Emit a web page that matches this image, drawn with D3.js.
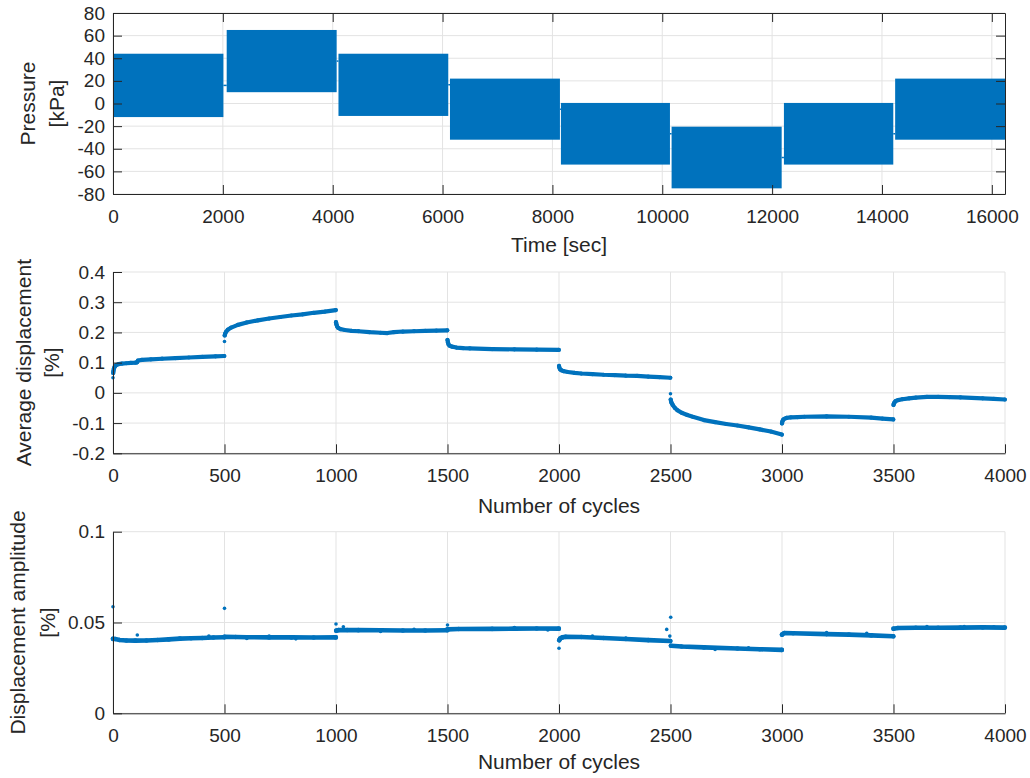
<!DOCTYPE html>
<html>
<head>
<meta charset="utf-8">
<script src="https://cdn.jsdelivr.net/npm/d3@7"></script>
<style>
  body { margin: 0; background: #fff; }
  svg { display: block; }
  text { font-family: "Liberation Sans", Arial, Helvetica, sans-serif; fill: #262626; }
</style>
</head>
<body>
<svg id="fig" width="1030" height="778"></svg>
<script>
// ---- Pressure loading stages (time in seconds, pressure envelope in kPa) ----
const stageStart = [0, 2070, 4105, 6135, 8155, 10170, 12215, 14240];
const stageEnd   = [2010, 4072, 6104, 8137, 10140, 12174, 14206, 16240];
const pressureMax = [44, 65, 44, 22, 0.5, -20.5, 0.5, 22];
const pressureMin = [-12, 10, -11, -32, -54, -75, -54, -32];

// ---- Average displacement per cycle [%] ----
const avgCycles = [
  1, 2, 4, 7, 10, 15, 25, 40, 60, 80, 100, 108, 112, 130, 170, 220, 280, 340, 400, 460, 499,
  501, 503, 507, 515, 530, 560, 600, 650, 700, 750, 800, 850, 900, 950, 999,
  1000, 1002, 1005, 1010, 1020, 1040, 1070, 1100, 1150, 1200, 1230, 1260, 1300, 1350, 1400, 1450, 1499,
  1500, 1502, 1505, 1510, 1520, 1540, 1570, 1600, 1700, 1800, 1900, 1999,
  2000, 2002, 2005, 2010, 2020, 2040, 2070, 2100, 2150, 2200, 2250, 2300, 2350, 2400, 2450, 2499,
  2501, 2503, 2506, 2510, 2520, 2530, 2550, 2575, 2600, 2650, 2700, 2750, 2800, 2850, 2900, 2950, 2999,
  3000, 3002, 3005, 3010, 3020, 3040, 3070, 3100, 3200, 3300, 3400, 3450, 3499,
  3500, 3502, 3505, 3510, 3520, 3540, 3570, 3600, 3650, 3700, 3750, 3800, 3900, 3950, 3999
];
const avgValues = [
  0.066, 0.072, 0.080, 0.086, 0.089, 0.092, 0.095, 0.097, 0.098, 0.099, 0.100, 0.101, 0.107, 0.109, 0.111, 0.113, 0.115, 0.117, 0.119, 0.121, 0.122,
  0.190, 0.196, 0.202, 0.209, 0.216, 0.225, 0.233, 0.240, 0.246, 0.251, 0.256, 0.260, 0.265, 0.269, 0.274,
  0.234, 0.226, 0.220, 0.215, 0.211, 0.208, 0.205, 0.204, 0.201, 0.199, 0.198, 0.201, 0.203, 0.204, 0.205, 0.206, 0.207,
  0.175, 0.167, 0.160, 0.156, 0.153, 0.150, 0.148, 0.147, 0.145, 0.144, 0.143, 0.142,
  0.089, 0.083, 0.078, 0.075, 0.072, 0.069, 0.066, 0.064, 0.062, 0.060, 0.059, 0.057, 0.056, 0.054, 0.052, 0.050,
  -0.022, -0.030, -0.035, -0.040, -0.050, -0.057, -0.066, -0.073, -0.079, -0.090, -0.097, -0.103, -0.108, -0.114, -0.121, -0.128, -0.138,
  -0.101, -0.094, -0.089, -0.086, -0.083, -0.081, -0.080, -0.079, -0.078, -0.079, -0.082, -0.085, -0.088,
  -0.040, -0.035, -0.031, -0.027, -0.024, -0.021, -0.018, -0.016, -0.013, -0.013, -0.014, -0.015, -0.018, -0.020, -0.022
];
// first-cycle readings that sit apart from the rest of their stage
const avgSingleCycles = [0, 500, 2500];
const avgSingleValues = [0.050, 0.170, -0.003];

// ---- Displacement amplitude per cycle [%] ----
const ampCycles = [
  0, 10, 30, 60, 100, 150, 200, 250, 300, 350, 400, 450, 499,
  500, 550, 600, 700, 800, 900, 999,
  1001, 1010, 1050, 1100, 1200, 1300, 1400, 1499,
  1500, 1550, 1700, 1800, 1900, 1999,
  2001, 2005, 2015, 2030, 2100, 2200, 2300, 2400, 2499,
  2502, 2550, 2650, 2800, 2900, 2999,
  3000, 3010, 3050, 3200, 3300, 3400, 3499,
  3500, 3520, 3600, 3700, 3800, 3900, 3999
];
const ampValues = [
  0.0410, 0.0409, 0.0404, 0.0401, 0.0400, 0.0401, 0.0404, 0.0407, 0.0411, 0.0413, 0.0415, 0.0417, 0.0419,
  0.0421, 0.0420, 0.0419, 0.0418, 0.0418, 0.0417, 0.0418,
  0.0455, 0.0458, 0.0459, 0.0458, 0.0457, 0.0456, 0.0456, 0.0457,
  0.0462, 0.0464, 0.0465, 0.0466, 0.0467, 0.0466,
  0.0402, 0.0412, 0.0418, 0.0421, 0.0420, 0.0415, 0.0409, 0.0403, 0.0398,
  0.0372, 0.0368, 0.0363, 0.0357, 0.0353, 0.0349,
  0.0433, 0.0442, 0.0441, 0.0436, 0.0433, 0.0429, 0.0424,
  0.0466, 0.0470, 0.0471, 0.0471, 0.0472, 0.0473, 0.0472
];
// scattered single readings around the main trend
const ampSingleCycles = [0, 109, 500, 1000, 1033, 1500, 2000, 2483, 2497, 2501,
  430, 600, 700, 820, 1200, 1350, 1800, 1950, 2150, 2300, 2700, 2850, 3200, 3380, 3650, 3817, 3950];
const ampSingleValues = [0.0587, 0.0431, 0.0578, 0.0492, 0.0477, 0.0486, 0.0358, 0.0462, 0.0425, 0.0529,
  0.0425, 0.0412, 0.0426, 0.0410, 0.0451, 0.0463, 0.0472, 0.0459, 0.0426, 0.0415, 0.0352, 0.0360, 0.0445, 0.0441, 0.0478, 0.0478, 0.0477];

// ---- Tick values ----
const timeTicks = [0, 2000, 4000, 6000, 8000, 10000, 12000, 14000, 16000];
const pressureTicks = [-80, -60, -40, -20, 0, 20, 40, 60, 80];
const cycleTicks = [0, 500, 1000, 1500, 2000, 2500, 3000, 3500, 4000];
const avgTicks = [-0.2, -0.1, 0, 0.1, 0.2, 0.3, 0.4];
const ampTicks = [0, 0.05, 0.1];

// ---- Layout / style ----
const BLUE = "#0072bd";
const AXIS = "#262626";
const GRID = "#e3e3e3";
const TICK_FONT = 19;
const LABEL_FONT = 21;
const left = 113, right = 1005;
const panels = [
  { top: 13, bottom: 194 },
  { top: 272, bottom: 453.3 },
  { top: 531.7, bottom: 713.3 }
];

const svg = d3.select("#fig");

function buildPanel(p, xDomain, yDomain, xTicks, yTicks, box) {
  const x = d3.scaleLinear().domain(xDomain).range([left, right]);
  const y = d3.scaleLinear().domain(yDomain).range([p.bottom, p.top]);
  const g = svg.append("g");
  const grid = g.append("g").attr("class", "grid");
  grid.selectAll("line.gx").data(xTicks).join("line")
    .attr("x1", d => x(d)).attr("x2", d => x(d))
    .attr("y1", p.top).attr("y2", p.bottom)
    .attr("stroke", GRID).attr("stroke-width", 1);
  grid.selectAll("line.gy").data(yTicks).join("line")
    .attr("y1", d => y(d)).attr("y2", d => y(d))
    .attr("x1", left).attr("x2", right)
    .attr("stroke", GRID).attr("stroke-width", 1);
  const dataLayer = g.append("g");
  const axes = g.append("g");
  return { x, y, g, dataLayer, axes, p, xTicks, yTicks, box };
}

function styleAxis(sel) {
  sel.select(".domain").attr("stroke", AXIS).attr("stroke-width", 1);
  sel.selectAll(".tick line").attr("stroke", AXIS).attr("stroke-width", 1);
  sel.selectAll("text").attr("font-size", TICK_FONT).attr("fill", AXIS)
     .attr("font-family", '"Liberation Sans", Arial, Helvetica, sans-serif');
  sel.attr("font-size", null).attr("font-family", null);
}

function finishAxes(P, fmtX, fmtY) {
  const { x, y, axes, p, xTicks, yTicks, box } = P;
  const ax = axes.append("g").attr("transform", `translate(0,${p.bottom})`)
    .call(d3.axisBottom(x).tickValues(xTicks).tickFormat(fmtX)
      .tickSizeInner(-9).tickSizeOuter(0).tickPadding(15.5));
  styleAxis(ax);
  const ay = axes.append("g").attr("transform", `translate(${left},0)`)
    .call(d3.axisLeft(y).tickValues(yTicks).tickFormat(fmtY)
      .tickSizeInner(-9).tickSizeOuter(0).tickPadding(8));
  styleAxis(ay);
  if (box) {
    const at = axes.append("g").attr("transform", `translate(0,${p.top})`)
      .call(d3.axisTop(x).tickValues(xTicks).tickFormat("").tickSizeInner(-9).tickSizeOuter(0));
    styleAxis(at);
    const ar = axes.append("g").attr("transform", `translate(${right},0)`)
      .call(d3.axisRight(y).tickValues(yTicks).tickFormat("").tickSizeInner(-9).tickSizeOuter(0));
    styleAxis(ar);
  }
}

function yLabel(lines, baselines, p) {
  const cy = (p.top + p.bottom) / 2;
  lines.forEach((t, i) => {
    svg.append("text")
      .attr("transform", `translate(${baselines[i]},${cy}) rotate(-90)`)
      .attr("text-anchor", "middle")
      .attr("font-size", LABEL_FONT)
      .text(t);
  });
}
function xLabel(t, baseline) {
  svg.append("text").attr("x", (left + right) / 2).attr("y", baseline)
    .attr("text-anchor", "middle").attr("font-size", LABEL_FONT).text(t);
}

// ================= Panel 1: pressure vs time =================
const P1 = buildPanel(panels[0], [0, 16240], [-80, 80], timeTicks, pressureTicks, true);
const stages = stageStart.map((s, i) => ({ s, e: stageEnd[i], hi: pressureMax[i], lo: pressureMin[i] }));
P1.dataLayer.selectAll("rect").data(stages).join("rect")
  .attr("x", d => P1.x(d.s))
  .attr("width", d => P1.x(d.e) - P1.x(d.s))
  .attr("y", d => P1.y(d.hi))
  .attr("height", d => P1.y(d.lo) - P1.y(d.hi))
  .attr("fill", BLUE);
// resting pressure between loading stages
P1.dataLayer.selectAll("line.rest").data(stages.slice(0, -1)).join("line")
  .attr("x1", d => P1.x(d.e)).attr("x2", (d, i) => P1.x(stages[i + 1].s))
  .attr("y1", d => P1.y((d.hi + d.lo) / 2)).attr("y2", d => P1.y((d.hi + d.lo) / 2))
  .attr("stroke", BLUE).attr("stroke-width", 1.5);
finishAxes(P1, d => String(d), d => String(d));
yLabel(["Pressure", "[kPa]"], [35, 63.5], panels[0]);
xLabel("Time [sec]", 251.5);

// ---- helper to draw per-cycle series grouped by 500-cycle stage ----
function drawCycleSeries(P, cycles, values, singleC, singleV, lineW, r) {
  const pts = cycles.map((c, i) => [c, values[i]]);
  const groups = d3.groups(pts, d => Math.min(7, Math.floor(d[0] / 500))).map(g => g[1]);
  const line = d3.line().x(d => P.x(d[0])).y(d => P.y(d[1]));
  P.dataLayer.selectAll("path.trend").data(groups).join("path")
    .attr("d", line).attr("fill", "none").attr("stroke", BLUE)
    .attr("stroke-width", lineW).attr("stroke-linecap", "round").attr("stroke-linejoin", "round");
  P.dataLayer.selectAll("circle.pt").data(pts).join("circle")
    .attr("cx", d => P.x(d[0])).attr("cy", d => P.y(d[1])).attr("r", r).attr("fill", BLUE);
  const singles = singleC.map((c, i) => [c, singleV[i]]);
  P.dataLayer.selectAll("circle.single").data(singles).join("circle")
    .attr("cx", d => P.x(d[0])).attr("cy", d => P.y(d[1])).attr("r", 1.8).attr("fill", BLUE);
}

// ================= Panel 2: average displacement =================
const P2 = buildPanel(panels[1], [0, 4000], [-0.2, 0.4], cycleTicks, avgTicks, false);
drawCycleSeries(P2, avgCycles, avgValues, avgSingleCycles, avgSingleValues, 4.2, 2.1);
finishAxes(P2, d => String(d), d => String(d));
yLabel(["Average displacement", "[%]"], [31, 58.5], panels[1]);
xLabel("Number of cycles", 513);

// ================= Panel 3: displacement amplitude =================
const P3 = buildPanel(panels[2], [0, 4000], [0, 0.1], cycleTicks, ampTicks, false);
drawCycleSeries(P3, ampCycles, ampValues, ampSingleCycles, ampSingleValues, 4.6, 2.3);
finishAxes(P3, d => String(d), d => String(d));
yLabel(["Displacement amplitude", "[%]"], [25, 54.5], panels[2]);
xLabel("Number of cycles", 769);
</script>
</body>
</html>
